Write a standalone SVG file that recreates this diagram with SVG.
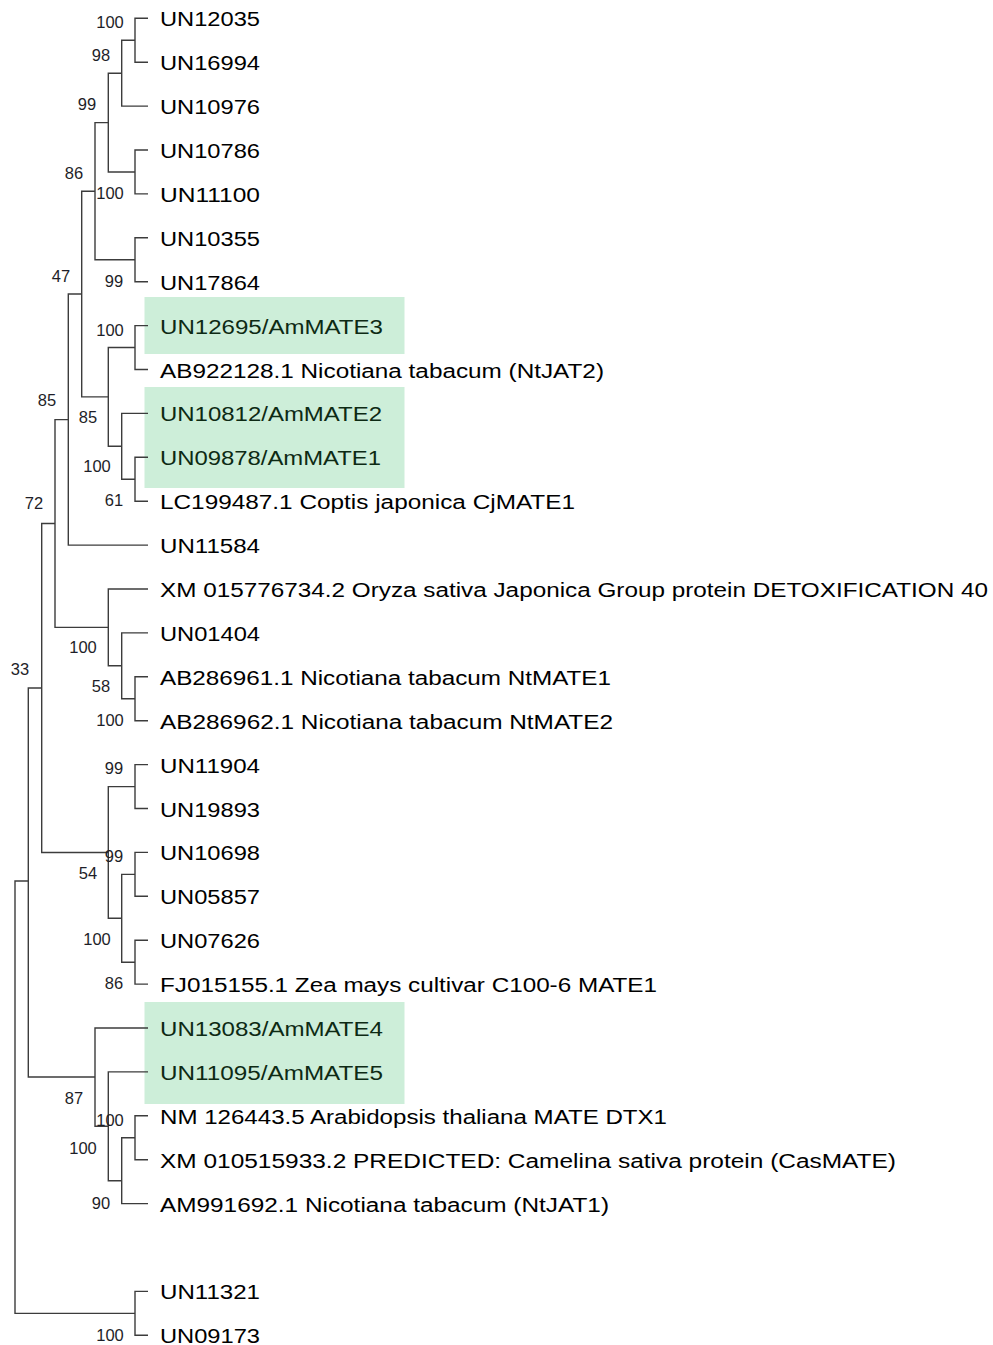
<svg xmlns="http://www.w3.org/2000/svg" width="993" height="1345" viewBox="0 0 993 1345">
<style>
.hl{fill:#cdeed9;}
.br{fill:none;stroke:#3c3c3c;stroke-width:1.4;}
.lf{font-family:"Liberation Sans",Arial,sans-serif;font-size:19.5px;fill:#000;}
.am{fill:#0d2a14;}
.bs{font-family:"Liberation Sans",Arial,sans-serif;font-size:16.5px;fill:#1e1e28;text-anchor:middle;}
</style>
<rect width="993" height="1345" fill="#fff"/>
<g id="highlights">
<rect class="hl" x="144.5" y="297" width="260" height="57"/>
<rect class="hl" x="144.5" y="387" width="260" height="101"/>
<rect class="hl" x="144.5" y="1002" width="260" height="102"/>
</g>
<g id="connectors" class="br">
<path d="M148 18.3H135V62.2H148"/>
<path d="M135 40.2H121.7V106.1H148"/>
<path d="M148 150H135V193.9H148"/>
<path d="M121.7 73.2H108.3V172H135"/>
<path d="M148 237.8H135V281.7H148"/>
<path d="M108.3 122.6H95V259.7H135"/>
<path d="M148 325.6H135V369.5H148"/>
<path d="M148 457.3H135V501.2H148"/>
<path d="M148 413.4H121.7V479.3H135"/>
<path d="M135 347.5H108.3V446.3H121.7"/>
<path d="M95 191.2H81.7V396.9H108.3"/>
<path d="M81.7 294H68.3V545.1H148"/>
<path d="M148 676.8H135V720.7H148"/>
<path d="M148 632.9H121.7V698.7H135"/>
<path d="M148 589H108.3V665.8H121.7"/>
<path d="M68.3 419.6H55V627.4H108.3"/>
<path d="M148 764.6H135V808.5H148"/>
<path d="M148 852.4H135V896.3H148"/>
<path d="M148 940.2H135V984.1H148"/>
<path d="M135 874.4H121.7V962.2H135"/>
<path d="M135 786.6H108.3V918.3H121.7"/>
<path d="M55 523.5H41.7V852.5H108.3"/>
<path d="M148 1115.8H135V1159.7H148"/>
<path d="M135 1137.8H121.7V1203.6H148"/>
<path d="M148 1071.9H108.3V1180.7H121.7"/>
<path d="M148 1028H95V1126.3H108.3"/>
<path d="M148 1291.4H135V1335.3H148"/>
<path d="M41.7 688H28.3V1077H95"/>
<path d="M28.3 881H15V1313.4H135"/>
</g>
<g id="leaves">
<g id="leaf-UN12035"><text class="lf" x="160" y="26.3" textLength="100" lengthAdjust="spacingAndGlyphs">UN12035</text></g>
<g id="leaf-UN16994"><text class="lf" x="160" y="70.2" textLength="100" lengthAdjust="spacingAndGlyphs">UN16994</text></g>
<g id="leaf-UN10976"><text class="lf" x="160" y="114.1" textLength="100" lengthAdjust="spacingAndGlyphs">UN10976</text></g>
<g id="leaf-UN10786"><text class="lf" x="160" y="158" textLength="100" lengthAdjust="spacingAndGlyphs">UN10786</text></g>
<g id="leaf-UN11100"><text class="lf" x="160" y="201.9" textLength="100" lengthAdjust="spacingAndGlyphs">UN11100</text></g>
<g id="leaf-UN10355"><text class="lf" x="160" y="245.8" textLength="100" lengthAdjust="spacingAndGlyphs">UN10355</text></g>
<g id="leaf-UN17864"><text class="lf" x="160" y="289.7" textLength="100" lengthAdjust="spacingAndGlyphs">UN17864</text></g>
<g id="leaf-UN12695"><text class="lf am" x="160" y="333.6" textLength="223" lengthAdjust="spacingAndGlyphs">UN12695/AmMATE3</text></g>
<g id="leaf-AB922128"><text class="lf" x="160" y="377.5" textLength="444" lengthAdjust="spacingAndGlyphs">AB922128.1 Nicotiana tabacum (NtJAT2)</text></g>
<g id="leaf-UN10812"><text class="lf am" x="160" y="421.4" textLength="222" lengthAdjust="spacingAndGlyphs">UN10812/AmMATE2</text></g>
<g id="leaf-UN09878"><text class="lf am" x="160" y="465.3" textLength="221" lengthAdjust="spacingAndGlyphs">UN09878/AmMATE1</text></g>
<g id="leaf-LC199487"><text class="lf" x="160" y="509.2" textLength="415" lengthAdjust="spacingAndGlyphs">LC199487.1 Coptis japonica CjMATE1</text></g>
<g id="leaf-UN11584"><text class="lf" x="160" y="553.1" textLength="100" lengthAdjust="spacingAndGlyphs">UN11584</text></g>
<g id="leaf-XM015776734"><text class="lf" x="160" y="597" textLength="828" lengthAdjust="spacingAndGlyphs">XM 015776734.2 Oryza sativa Japonica Group protein DETOXIFICATION 40</text></g>
<g id="leaf-UN01404"><text class="lf" x="160" y="640.9" textLength="100" lengthAdjust="spacingAndGlyphs">UN01404</text></g>
<g id="leaf-AB286961"><text class="lf" x="160" y="684.8" textLength="451" lengthAdjust="spacingAndGlyphs">AB286961.1 Nicotiana tabacum NtMATE1</text></g>
<g id="leaf-AB286962"><text class="lf" x="160" y="728.7" textLength="453" lengthAdjust="spacingAndGlyphs">AB286962.1 Nicotiana tabacum NtMATE2</text></g>
<g id="leaf-UN11904"><text class="lf" x="160" y="772.6" textLength="100" lengthAdjust="spacingAndGlyphs">UN11904</text></g>
<g id="leaf-UN19893"><text class="lf" x="160" y="816.5" textLength="100" lengthAdjust="spacingAndGlyphs">UN19893</text></g>
<g id="leaf-UN10698"><text class="lf" x="160" y="860.4" textLength="100" lengthAdjust="spacingAndGlyphs">UN10698</text></g>
<g id="leaf-UN05857"><text class="lf" x="160" y="904.3" textLength="100" lengthAdjust="spacingAndGlyphs">UN05857</text></g>
<g id="leaf-UN07626"><text class="lf" x="160" y="948.2" textLength="100" lengthAdjust="spacingAndGlyphs">UN07626</text></g>
<g id="leaf-FJ015155"><text class="lf" x="160" y="992.1" textLength="497" lengthAdjust="spacingAndGlyphs">FJ015155.1 Zea mays cultivar C100-6 MATE1</text></g>
<g id="leaf-UN13083"><text class="lf am" x="160" y="1036" textLength="223" lengthAdjust="spacingAndGlyphs">UN13083/AmMATE4</text></g>
<g id="leaf-UN11095"><text class="lf am" x="160" y="1079.9" textLength="223" lengthAdjust="spacingAndGlyphs">UN11095/AmMATE5</text></g>
<g id="leaf-NM126443"><text class="lf" x="160" y="1123.8" textLength="507" lengthAdjust="spacingAndGlyphs">NM 126443.5 Arabidopsis thaliana MATE DTX1</text></g>
<g id="leaf-XM010515933"><text class="lf" x="160" y="1167.7" textLength="736" lengthAdjust="spacingAndGlyphs">XM 010515933.2 PREDICTED: Camelina sativa protein (CasMATE)</text></g>
<g id="leaf-AM991692"><text class="lf" x="160" y="1211.6" textLength="449" lengthAdjust="spacingAndGlyphs">AM991692.1 Nicotiana tabacum (NtJAT1)</text></g>
<g id="leaf-UN11321"><text class="lf" x="160" y="1299.4" textLength="100" lengthAdjust="spacingAndGlyphs">UN11321</text></g>
<g id="leaf-UN09173"><text class="lf" x="160" y="1342.8" textLength="100" lengthAdjust="spacingAndGlyphs">UN09173</text></g>
</g>
<g id="support">
<text class="bs" x="110" y="28">100</text>
<text class="bs" x="101" y="61">98</text>
<text class="bs" x="87" y="110">99</text>
<text class="bs" x="74" y="179">86</text>
<text class="bs" x="110" y="199">100</text>
<text class="bs" x="61" y="282">47</text>
<text class="bs" x="114" y="287">99</text>
<text class="bs" x="110" y="336">100</text>
<text class="bs" x="47" y="406">85</text>
<text class="bs" x="88" y="423">85</text>
<text class="bs" x="97" y="472">100</text>
<text class="bs" x="114" y="506">61</text>
<text class="bs" x="34" y="509">72</text>
<text class="bs" x="83" y="653">100</text>
<text class="bs" x="20" y="675">33</text>
<text class="bs" x="101" y="692">58</text>
<text class="bs" x="110" y="726">100</text>
<text class="bs" x="114" y="774">99</text>
<text class="bs" x="114" y="862">99</text>
<text class="bs" x="88" y="879">54</text>
<text class="bs" x="97" y="945">100</text>
<text class="bs" x="114" y="989">86</text>
<text class="bs" x="74" y="1104">87</text>
<text class="bs" x="110" y="1126">100</text>
<text class="bs" x="83" y="1154">100</text>
<text class="bs" x="101" y="1209">90</text>
<text class="bs" x="110" y="1341">100</text>
</g>
</svg>
